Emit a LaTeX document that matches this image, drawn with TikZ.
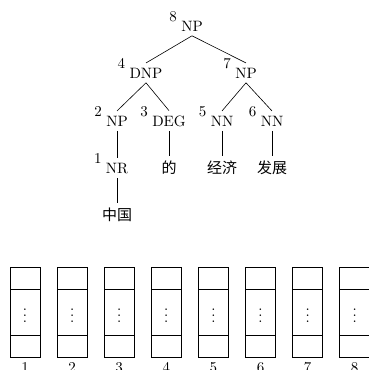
\documentclass[tikz,border=0pt]{standalone}
\usepackage{fontspec}
\newfontfamily\cjk{Noto Sans CJK SC}
\begin{document}
\begin{tikzpicture}[x=0.6667pt,y=-0.6667pt,
  lab/.style={inner sep=3pt, anchor=base},
  word/.style={inner sep=3pt, anchor=base, font=\cjk},
  num/.style={inner sep=0pt, anchor=base east},
  idx/.style={inner sep=0pt, anchor=north},
  dotsn/.style={inner sep=0pt}]
\useasboundingbox (0,0) rectangle (369,370);
% tree labels
\node[lab] (n8) at (192,31) {NP};
\node[lab] (n4) at (146,78) {DNP};
\node[lab] (n7) at (246,78) {NP};
\node[lab] (n2) at (117,126) {NP};
\node[lab] (n3) at (169,126) {DEG};
\node[lab] (n5) at (222,126) {NN};
\node[lab] (n6) at (272,126) {NN};
\node[lab] (n1) at (117,173) {NR};
\node[word] (w1) at (117,220) {中国};
\node[word] (w3) at (169,173) {的};
\node[word] (w5) at (222,173) {经济};
\node[word] (w6) at (272,173) {发展};
% numbers
\foreach \k in {1,...,8}
  \node[num] (m\k) at ([xshift=0.5pt,yshift=6.5pt]n\k.base west) {\k};
% edges
\draw (n8.south) -- (n4.north);
\draw (n8.south) -- (n7.north);
\draw (n4.south) -- (n2.north);
\draw (n4.south) -- (n3.north);
\draw (n7.south) -- (n5.north);
\draw (n7.south) -- (n6.north);
\draw (n2.south) -- (n1.north);
\draw (n1.south) -- (w1.north);
\draw (n3.south) -- (w3.north);
\draw (n5.south) -- (w5.north);
\draw (n6.south) -- (w6.north);
% boxes
\foreach \i in {1,...,8} {
  \pgfmathsetmacro\xl{10+47.1*(\i-1)}
  \draw (\xl,267) rectangle ++(30,90);
  \draw (\xl,289) -- ++(30,0);
  \draw (\xl,335) -- ++(30,0);
  \node[dotsn] (d\i) at (\xl+15,311) {$\vdots$};
  \node[idx] (i\i) at (\xl+15,362) {\i};
}
\end{tikzpicture}
\end{document}
